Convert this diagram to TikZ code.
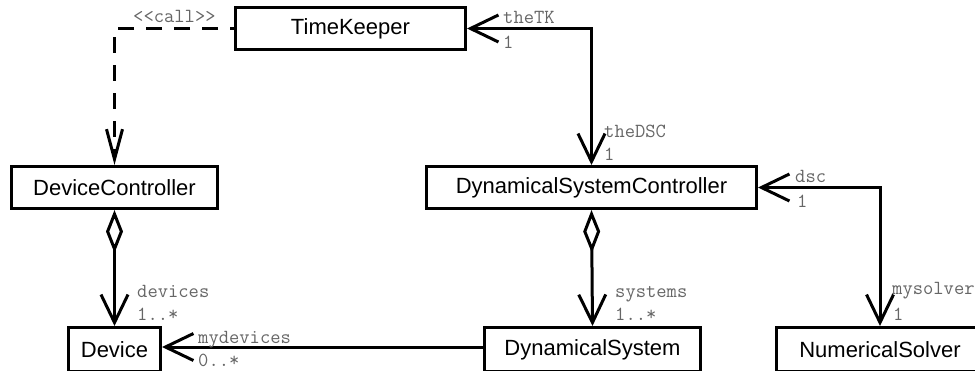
\documentclass[tikz,border=0pt]{standalone}
\usepackage{fontspec}
\setmainfont{Liberation Sans}
\usetikzlibrary{arrows.meta}
\begin{document}
\begin{tikzpicture}[x=1pt,y=-1pt,
  cls/.style={draw, line width=3pt, fill=white, inner sep=0pt,
    font=\fontsize{22}{26}\selectfont},
  lbl/.style={inner sep=0pt, anchor=base west, text=black!60,
    font=\fontsize{20}{24}\selectfont\ttfamily},
  conn/.style={line width=3pt, line join=miter},
  barb/.tip={Straight Barb[length=28pt,width=27pt]},
  thinbarb/.tip={Straight Barb[length=30pt,width=16pt]},
  agg/.tip={Diamond[open,fill=white,length=43pt,width=17pt]},
  depline/.style={conn, dash pattern=on 16pt off 12pt, dash phase=12pt}]
\useasboundingbox (0,0) rectangle (975,370);

% classes
\node[cls, minimum width=230pt, minimum height=42pt] (TK)  at (350.5,28.5)  {TimeKeeper};
\node[cls, minimum width=206pt, minimum height=42pt] (DC)  at (114.5,187.5) {DeviceController};
\node[cls, minimum width=330pt, minimum height=42pt] (DSC) at (591.5,187.5) {DynamicalSystemController};
\node[cls, minimum width=92pt,  minimum height=44pt] (Dev) at (114.5,349.5) {Device};
\node[cls, minimum width=216pt, minimum height=44pt] (DS)  at (592.5,349.5) {DynamicalSystem};
\node[cls, minimum width=207pt, minimum height=44pt] (NS)  at (880,349.5)   {NumericalSolver};

% dependency
\draw[depline, -{thinbarb}] (TK.west) -| (DC.north);
\node[lbl] (lcall) at (133,22) {\textless\kern0pt\textless call\textgreater\kern0pt\textgreater};

% associations
\draw[conn, {barb}-{barb}] (TK.east) -| (DSC.north);
\node[lbl] (ltk)   at (503,23)  {theTK};
\node[lbl] (ltk1)  at (503,48)  {1};
\node[lbl] (ldsc)  at (604,137) {theDSC};
\node[lbl] (ldsc1) at (604,160) {1};

\draw[conn, {barb}-{barb}] (DSC.east) -| (NS.north);
\node[lbl] (lc)    at (795,182) {dsc};
\node[lbl] (lc1)   at (797,207) {1};
\node[lbl] (lsol)  at (892,294) {mysolver};
\node[lbl] (lsol1) at (893,320) {1};

% aggregations
\draw[conn, {agg}-{barb}] (DC.south) -- (Dev.north);
\node[lbl] (ldev)  at (137,297) {devices};
\node[lbl] (ldev1) at (137,320) {1..*};

\draw[conn, {agg}-{barb}] (DSC.south) -- (DS.north);
\node[lbl] (lsys)  at (615,297) {systems};
\node[lbl] (lsys1) at (615,320) {1..*};

\draw[conn, -{barb}] ([yshift=2.5pt]DS.west) -- ([yshift=2.5pt]Dev.east);
\node[lbl] (lmd)   at (198,343) {mydevices};
\node[lbl] (lmd1)  at (198,366) {0..*};
\end{tikzpicture}
\end{document}
